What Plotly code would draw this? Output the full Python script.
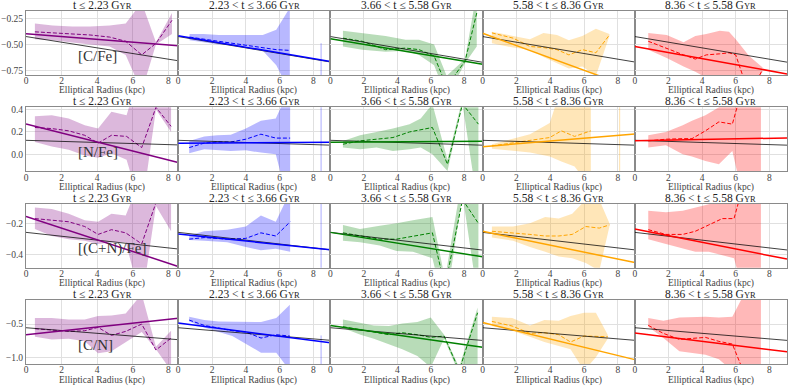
import plotly.graph_objects as go
from plotly.subplots import make_subplots

COLORS = ["#800080", "#0000ff", "#008000", "#ffa500", "#ff0000"]
FILLS = ["rgba(128,0,128,0.28)", "rgba(0,0,255,0.28)", "rgba(0,128,0,0.28)",
         "rgba(255,165,0,0.28)", "rgba(255,0,0,0.28)"]
SC = "<span style='font-size:8.5px'>YR</span>"
TITLES = ["t ≤ 2.23 G" + SC, "2.23 < t ≤ 3.66 G" + SC, "3.66 < t ≤ 5.58 G" + SC,
          "5.58 < t ≤ 8.36 G" + SC, "8.36 < t ≤ 5.58 G" + SC]
ROW_LABELS = ["[C/Fe]", "[N/Fe]", "[(C+N)/Fe]", "[C/N]"]
X_MAX = [8.55, 9.0, 9.1, 9.0, 9.05]
Y_RANGE = [[-0.791, -0.181], [-0.152, 0.42], [-0.48, -0.076], [-1.1, -0.14]]
Y_TICKS = [[-0.75, -0.5, -0.25], [0.0, 0.2, 0.4], [-0.4, -0.2], [-1.0, -0.5]]
Y_FMT = [".2f", ".1f", ".1f", ".1f"]

# ---- [C/Fe]
CFE_R = [[0.5, 1.5, 2.6, 3.6, 4.7, 5.6, 6.5, 7.3, 8.2],
         [0.67, 1.5, 2.4, 3.3, 4.1, 5.0, 5.8, 6.6],
         [0.75, 1.9, 3.3, 4.5, 5.3, 6.2, 6.95, 8.05, 8.75],
         [0.55, 1.8, 2.8, 3.6, 4.4, 5.1, 5.9, 6.7, 7.5],
         [0.8, 1.9, 2.9, 3.6, 4.25, 5.05, 5.6, 6.0, 6.8, 7.6]]
CFE_MED = [[-0.38, -0.39, -0.40, -0.41, -0.43, -0.47, -0.60, -0.49, -0.27],
           [-0.43, -0.45, -0.47, -0.49, -0.51, -0.53, -0.55, -0.557],
           [-0.44, -0.47, -0.55, -0.535, -0.55, -0.61, -0.90, -0.66, -0.20],
           [-0.39, -0.44, -0.52, -0.53, -0.55, -0.60, -0.55, -0.58, -0.41],
           [-0.47, -0.54, -0.60, -0.64, -0.60, -0.59, -0.58, -0.60, -0.98, -0.74]]
CFE_HI = [[-0.30, -0.32, -0.33, -0.33, -0.32, -0.30, -0.10, -0.48, -0.20],
          [-0.40, -0.40, -0.41, -0.41, -0.41, -0.41, -0.36, -0.15],
          [-0.37, -0.39, -0.42, -0.456, -0.456, -0.50, -0.80, -0.64, 0.0],
          [-0.38, -0.42, -0.45, -0.39, -0.41, -0.46, -0.42, -0.35, -0.40],
          [-0.39, -0.41, -0.48, -0.42, -0.40, -0.37, -0.38, -0.45, -0.61, -0.72]]
CFE_LO = [[-0.45, -0.46, -0.48, -0.50, -0.52, -0.60, -0.95, -0.50, -0.40],
          [-0.46, -0.48, -0.50, -0.51, -0.52, -0.56, -0.70, -0.95],
          [-0.52, -0.55, -0.57, -0.56, -0.60, -0.70, -1.0, -0.68, -0.52],
          [-0.49, -0.53, -0.55, -0.62, -0.68, -0.73, -0.71, -0.80, -0.42],
          [-0.55, -0.63, -0.71, -0.76, -0.82, -0.85, -0.86, -0.90, -1.0, -0.76]]
CFE_FIT = [(-0.399, -0.0134), (-0.418, -0.0272), (-0.447, -0.0267),
           (-0.393, -0.059), (-0.519, -0.029)]
CFE_ALL = (-0.425, -0.027)
CFE_ISO = [None, (8.45, -0.85, -0.49), None, None, None]

# ---- [N/Fe]
NFE_R = [[0.5, 1.45, 2.4, 3.3, 4.05, 4.8, 5.65, 6.5, 7.3, 8.15],
         [0.65, 1.54, 2.3, 3.11, 4.0, 4.89, 5.77, 6.62],
         [0.75, 1.77, 2.76, 3.74, 4.73, 5.4, 6.1, 7.0, 7.9, 8.85],
         [0.55, 1.8, 2.8, 3.97, 4.66, 5.44, 6.4],
         [0.8, 1.85, 2.85, 3.4, 4.2, 5.0, 5.8, 6.6, 7.5]]
NFE_MED = [[0.24, 0.23, 0.21, 0.17, 0.10, 0.17, 0.16, 0.06, 0.42, 0.25],
           [0.06, 0.10, 0.11, 0.11, 0.135, 0.18, 0.145, 0.145],
           [0.09, 0.12, 0.135, 0.15, 0.20, 0.22, 0.24, -0.09, 0.45, 0.27],
           [0.075, 0.10, 0.12, 0.15, 0.21, 0.16, 0.21],
           [0.12, 0.135, 0.14, 0.14, 0.21, 0.29, 0.27, 0.7, 0.8]]
NFE_HI = [[0.34, 0.35, 0.32, 0.26, 0.23, 0.38, 0.35, 0.8, 0.8, 0.8],
          [0.12, 0.16, 0.17, 0.175, 0.23, 0.30, 0.32, 0.6],
          [0.12, 0.17, 0.20, 0.23, 0.27, 0.32, 0.45, -0.05, 0.5, 0.6],
          [0.09, 0.14, 0.18, 0.28, 0.6, 0.6, 0.6],
          [0.17, 0.20, 0.26, 0.30, 0.35, 0.42, 0.6, 0.9, 0.9]]
NFE_LO = [[0.11, 0.07, 0.04, -0.01, -0.03, 0.01, -0.05, -0.5, 0.40, 0.20],
          [0.01, 0.045, 0.035, 0.03, 0.035, 0.015, 0.0, -0.5],
          [0.06, 0.045, 0.06, 0.03, 0.045, 0.06, 0.0, -0.15, 0.45, -0.5],
          [0.05, 0.03, 0.015, -0.02, -0.065, -0.11, -0.3],
          [0.06, 0.08, 0.0, -0.02, -0.06, -0.09, 0.03, -0.5, -0.5]]
NFE_FIT = [(0.272, -0.0405), (0.099, 0.001), (0.108, 0.001),
           (0.068, 0.0127), (0.122, 0.0027)]
NFE_ALL = (0.125, -0.0048)
NFE_ISO = [None, (8.45, -0.5, 0.6), None, (8.1, -0.5, 0.6), None]

# ---- [(C+N)/Fe]
CNFE_R = [[0.5, 1.45, 2.4, 3.3, 4.05, 4.8, 5.6, 6.5, 7.3, 8.15],
          [0.65, 1.54, 2.9, 4.0, 4.89, 5.77, 6.62],
          [0.75, 1.77, 2.95, 3.95, 4.93, 6.1, 6.85, 7.9, 8.85],
          [0.55, 1.8, 2.8, 3.7, 4.5, 5.3, 6.1, 6.9, 7.5],
          [0.8, 1.85, 2.85, 3.6, 4.4, 5.2, 5.9, 6.6, 7.5]]
CNFE_MED = [[-0.17, -0.18, -0.19, -0.22, -0.27, -0.24, -0.26, -0.33, -0.07, -0.05],
            [-0.30, -0.29, -0.30, -0.295, -0.26, -0.28, -0.19],
            [-0.26, -0.28, -0.30, -0.30, -0.28, -0.26, -0.6, -0.05, -0.2],
            [-0.25, -0.26, -0.27, -0.28, -0.28, -0.27, -0.22, -0.23, -0.21],
            [-0.24, -0.27, -0.27, -0.25, -0.21, -0.17, -0.17, 0.1, 0.1]]
CNFE_HI = [[-0.10, -0.11, -0.14, -0.18, -0.19, -0.14, -0.15, 0.1, 0.1, 0.1],
           [-0.275, -0.25, -0.24, -0.22, -0.15, -0.19, 0.0],
           [-0.21, -0.235, -0.215, -0.20, -0.18, -0.16, -0.55, 0.1, 0.1],
           [-0.22, -0.22, -0.20, -0.16, -0.17, -0.14, -0.05, -0.05, -0.20],
           [-0.12, -0.13, -0.12, -0.10, -0.08, -0.05, 0.0, 0.1, 0.1]]
CNFE_LO = [[-0.235, -0.28, -0.30, -0.31, -0.33, -0.32, -0.32, -0.7, -0.09, -0.25],
           [-0.305, -0.31, -0.32, -0.35, -0.37, -0.36, -0.38],
           [-0.31, -0.32, -0.34, -0.375, -0.38, -0.42, -0.75, -0.02, -0.7],
           [-0.29, -0.31, -0.35, -0.38, -0.41, -0.42, -0.45, -0.50, -0.22],
           [-0.30, -0.33, -0.36, -0.38, -0.38, -0.40, -0.42, -0.7, -0.7]]
CNFE_FIT = [(-0.156, -0.037), (-0.268, -0.011), (-0.257, -0.017),
            (-0.25, -0.022), (-0.236, -0.021)]
CNFE_ALL = (-0.257, -0.0123)
CNFE_ISO = [None, (8.45, -0.6, 0.1), None, None, None]

# ---- [C/N]
CN_R = [[0.5, 1.45, 2.4, 3.3, 4.05, 4.8, 5.6, 6.5, 7.3, 8.15],
        [0.65, 1.54, 2.4, 3.2, 4.0, 4.9, 5.8, 6.6],
        [0.75, 1.8, 2.6, 3.5, 4.3, 5.2, 6.0, 6.8, 7.7, 8.8],
        [0.55, 1.75, 2.8, 3.65, 4.5, 5.2, 6.0, 6.7, 7.4],
        [0.8, 1.7, 2.65, 3.4, 4.2, 5.0, 5.8, 6.6, 7.5]]
CN_MED = [[-0.57, -0.59, -0.61, -0.60, -0.55, -0.67, -0.61, -0.50, -0.89, -0.71],
          [-0.44, -0.52, -0.56, -0.60, -0.62, -0.71, -0.66, -0.68],
          [-0.54, -0.58, -0.62, -0.66, -0.63, -0.66, -0.70, -0.68, -1.2, -0.33],
          [-0.46, -0.53, -0.64, -0.63, -0.66, -0.77, -0.68, -0.68, -0.69],
          [-0.52, -0.64, -0.73, -0.72, -0.70, -0.76, -0.80, -1.3, -1.3]]
CN_HI = [[-0.41, -0.41, -0.43, -0.43, -0.38, -0.37, -0.34, -0.05, -0.84, -0.60],
         [-0.39, -0.44, -0.46, -0.46, -0.46, -0.47, -0.41, -0.21],
         [-0.43, -0.48, -0.52, -0.53, -0.49, -0.47, -0.40, -0.66, -1.15, -0.25],
         [-0.39, -0.41, -0.52, -0.44, -0.45, -0.38, -0.33, -0.33, -0.66],
         [-0.41, -0.45, -0.40, -0.39, -0.39, -0.40, -0.39, 0.0, 0.0]]
CN_LO = [[-0.69, -0.73, -0.72, -0.76, -0.94, -0.91, -0.78, -0.62, -0.88, -1.2],
         [-0.46, -0.55, -0.62, -0.68, -0.80, -0.93, -0.93, -1.2],
         [-0.56, -0.66, -0.72, -0.80, -0.88, -0.98, -1.15, -0.72, -1.25, -1.2],
         [-0.53, -0.60, -0.69, -0.77, -0.83, -0.88, -1.2, -1.0, -0.72],
         [-0.54, -0.71, -0.91, -0.94, -0.96, -1.03, -1.2, -1.3, -1.3]]
CN_FIT = [(-0.66, 0.029), (-0.485, -0.033), (-0.52, -0.036),
          (-0.476, -0.062), (-0.635, -0.031)]
CN_ALL = (-0.555, -0.021)
CN_ISO = [None, (8.45, -1.3, -0.67), None, None, None]

ROWS = [(CFE_R, CFE_MED, CFE_LO, CFE_HI, CFE_FIT, CFE_ALL, CFE_ISO),
        (NFE_R, NFE_MED, NFE_LO, NFE_HI, NFE_FIT, NFE_ALL, NFE_ISO),
        (CNFE_R, CNFE_MED, CNFE_LO, CNFE_HI, CNFE_FIT, CNFE_ALL, CNFE_ISO),
        (CN_R, CN_MED, CN_LO, CN_HI, CN_FIT, CN_ALL, CN_ISO)]

SERIF = "Liberation Serif"

fig = make_subplots(rows=4, cols=5, horizontal_spacing=0, vertical_spacing=0.092)

for r, (rad, med, lo, hi, fit, allfit, iso) in enumerate(ROWS):
    for c in range(5):
        row, col = r + 1, c + 1
        x = rad[c]
        fig.add_trace(go.Scatter(x=x + x[::-1], y=hi[c] + lo[c][::-1], fill="toself",
                                 fillcolor=FILLS[c], line=dict(width=0), mode="lines",
                                 hoverinfo="skip", showlegend=False), row=row, col=col)
        if iso[c] is not None:
            xi, ylo, yhi = iso[c]
            fig.add_trace(go.Scatter(x=[xi, xi], y=[ylo, yhi], mode="lines",
                                     line=dict(width=1.2, color=FILLS[c]),
                                     hoverinfo="skip", showlegend=False), row=row, col=col)
        fig.add_trace(go.Scatter(x=x, y=med[c], mode="lines",
                                 line=dict(width=1, color=COLORS[c], dash="4px,2px"),
                                 showlegend=False), row=row, col=col)
        xm = X_MAX[c]
        a, b = allfit
        fig.add_trace(go.Scatter(x=[0, xm], y=[a, a + b * xm], mode="lines",
                                 line=dict(width=1, color="rgba(0,0,0,0.75)"),
                                 showlegend=False), row=row, col=col)
        a, b = fit[c]
        fig.add_trace(go.Scatter(x=[0, xm], y=[a, a + b * xm], mode="lines",
                                 line=dict(width=1.5, color=COLORS[c]),
                                 showlegend=False), row=row, col=col)
        fig.update_xaxes(range=[0, xm], tickvals=[0, 2, 4, 6, 8], row=row, col=col)
        fig.update_yaxes(range=Y_RANGE[r], tickvals=Y_TICKS[r], tickformat=Y_FMT[r],
                         showticklabels=(c == 0), row=row, col=col)

fig.update_xaxes(showgrid=True, gridcolor="#e0e0e0", gridwidth=1, zeroline=False,
                 showline=True, linecolor="#8a8a8a", linewidth=1, mirror=True, ticks="",
                 ticklabelstandoff=-3,
                 tickfont=dict(family=SERIF, size=9.5, color="#444"))
fig.update_yaxes(showgrid=True, gridcolor="#e0e0e0", gridwidth=1, zeroline=False,
                 showline=True, linecolor="#8a8a8a", linewidth=1, mirror=True, ticks="",
                 tickfont=dict(family=SERIF, size=9.5, color="#444"))

annotations = []
for r in range(4):
    for c in range(5):
        idx = r * 5 + c + 1
        xa = fig.layout["xaxis" if idx == 1 else "xaxis%d" % idx]
        ya = fig.layout["yaxis" if idx == 1 else "yaxis%d" % idx]
        xc = (xa.domain[0] + xa.domain[1]) / 2
        annotations.append(dict(text=TITLES[c], x=xc, y=ya.domain[1], xref="paper", yref="paper",
                                xanchor="center", yanchor="middle", showarrow=False, yshift=6,
                                borderpad=0, font=dict(family=SERIF, size=11.5, color="#222")))
        annotations.append(dict(text="Elliptical Radius (kpc)", x=xc, y=ya.domain[0],
                                xref="paper", yref="paper", xanchor="center", yanchor="middle",
                                showarrow=False, yshift=-16, borderpad=0,
                                font=dict(family=SERIF, size=9.5, color="#444")))
    annotations.append(dict(text=ROW_LABELS[r], x=0.337, y=0.3,
                            xref="x%s domain" % ("" if r == 0 else r * 5 + 1),
                            yref="y%s domain" % ("" if r == 0 else r * 5 + 1),
                            xanchor="left", yanchor="middle", showarrow=False, borderpad=0,
                            font=dict(family=SERIF, size=15, color="#333")))

fig.update_layout(width=789, height=386, margin=dict(l=25, r=1, t=11, b=22),
                  plot_bgcolor="white", paper_bgcolor="white",
                  annotations=annotations, showlegend=False)

# the page body has a default 8px margin; drop it so the figure sits at the window corner
fig.write_html("out.html", config={"displayModeBar": False},
               post_script="document.body.style.margin='0px';")
